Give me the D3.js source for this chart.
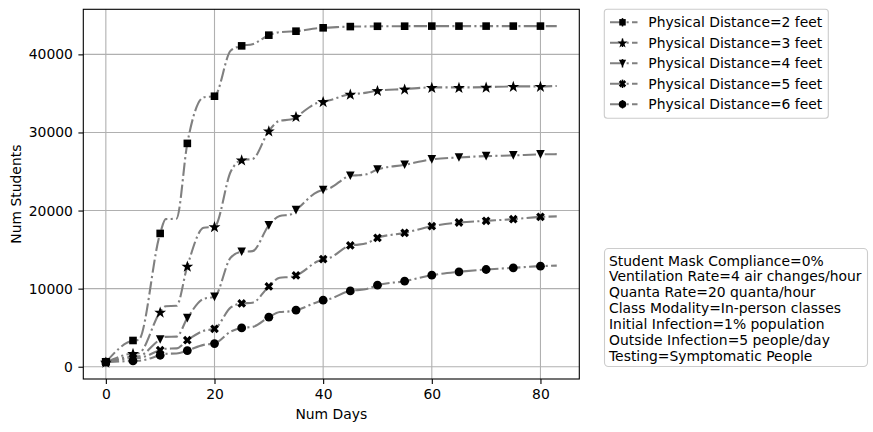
<!DOCTYPE html>
<html>
<head>
<meta charset="utf-8">
<script src="https://cdn.jsdelivr.net/npm/d3@7"></script>
<style>
  body { margin: 0; background: #fff; }
  svg { display: block; font-family: "DejaVu Sans", sans-serif; }
</style>
</head>
<body>
<div id="chart"></div>
<script>
const traceDays = [0, 5, 6, 10, 11, 13, 15, 18, 20, 23, 25, 27, 30, 32, 34, 35, 39, 40, 41, 45, 46, 48, 50, 55, 60, 65, 70, 75, 80, 83];

const seriesLabels = [
  "Physical Distance=2 feet",
  "Physical Distance=3 feet",
  "Physical Distance=4 feet",
  "Physical Distance=5 feet",
  "Physical Distance=6 feet"
];
const seriesMarkers = ["square", "star", "triangleDown", "xFilled", "circle"];

const dist2ft = [580, 3360, 3420, 17070, 18900, 18950, 28600, 34500, 34640, 40500, 41090, 41300, 42460, 42850, 42920, 42970, 43350, 43400, 43430, 43560, 43570, 43580, 43600, 43610, 43620, 43620, 43620, 43620, 43620, 43620];
const dist3ft = [580, 1690, 1720, 6990, 7750, 7800, 12880, 17800, 17920, 25000, 26470, 26600, 30190, 31500, 31650, 32030, 33800, 33950, 34100, 34900, 34950, 35100, 35360, 35550, 35770, 35770, 35800, 35900, 35900, 35950];
const dist4ft = [580, 1300, 1330, 3490, 3820, 3850, 6220, 8700, 8950, 14000, 14720, 14800, 18100, 19300, 19500, 20060, 22400, 22630, 22800, 24450, 24500, 24650, 25260, 25860, 26550, 26800, 26970, 27060, 27190, 27220];
const dist5ft = [580, 1100, 1120, 2115, 2300, 2350, 3400, 4600, 4850, 7600, 8100, 8200, 10280, 11400, 11500, 11690, 13500, 13780, 13900, 15530, 15600, 15800, 16500, 17140, 18000, 18470, 18680, 18900, 19190, 19250];
const dist6ft = [580, 740, 760, 1470, 1650, 1700, 2070, 2800, 2970, 4500, 4970, 5100, 6350, 7000, 7100, 7240, 8300, 8520, 8650, 9710, 9800, 9950, 10440, 10950, 11720, 12150, 12450, 12660, 12880, 12950];
const seriesValues = [dist2ft, dist3ft, dist4ft, dist5ft, dist6ft];

const xTicks = [0, 20, 40, 60, 80];
const yTicks = [0, 10000, 20000, 30000, 40000];

const infoLines = [
  "Student Mask Compliance=0%",
  "Ventilation Rate=4 air changes/hour",
  "Quanta Rate=20 quanta/hour",
  "Class Modality=In-person classes",
  "Initial Infection=1% population",
  "Outside Infection=5 people/day",
  "Testing=Symptomatic People"
];

const WIDTH = 873, HEIGHT = 432;
const PLOT = { left: 83.3, right: 579.3, top: 9.3, bottom: 379 };
const FONT = 13.9;
const LINE_GRAY = "#808080";
const DASHDOT = "13.3,3.3,2.1,3.3";

const svg = d3.select("#chart").append("svg")
  .attr("width", WIDTH)
  .attr("height", HEIGHT);

// matplotlib-like 5% autoscale margins
const xExt = d3.extent(traceDays);
const xPad = (xExt[1] - xExt[0]) * 0.05;
const allVals = seriesValues.flat();
const yExt = d3.extent(allVals);
const yPad = (yExt[1] - yExt[0]) * 0.05;

const x = d3.scaleLinear().domain([xExt[0] - xPad, xExt[1] + xPad]).range([PLOT.left, PLOT.right]);
const y = d3.scaleLinear().domain([yExt[0] - yPad, yExt[1] + yPad]).range([PLOT.bottom, PLOT.top]);

// grid
const grid = svg.append("g");
xTicks.forEach(t => grid.append("line")
  .attr("x1", x(t)).attr("x2", x(t)).attr("y1", PLOT.top).attr("y2", PLOT.bottom)
  .attr("stroke", "#b0b0b0").attr("stroke-width", 1.1));
yTicks.forEach(t => grid.append("line")
  .attr("x1", PLOT.left).attr("x2", PLOT.right).attr("y1", y(t)).attr("y2", y(t))
  .attr("stroke", "#b0b0b0").attr("stroke-width", 1.1));

// marker shapes
function markerPath(kind) {
  switch (kind) {
    case "square": {
      const s = 3.8;
      return `M${-s},${-s}H${s}V${s}H${-s}Z`;
    }
    case "circle":
      return d3.symbol(d3.symbolCircle, Math.PI * 4.4 * 4.4)();
    case "triangleDown": {
      const s = 4.3;
      return `M0,${s}L${-s},${-s}L${s},${-s}Z`;
    }
    case "star": {
      const R = 6.2, r = R * 0.4;
      const pts = d3.range(10).map(i => {
        const a = -Math.PI / 2 + i * Math.PI / 5;
        const rad = i % 2 === 0 ? R : r;
        return [rad * Math.cos(a), rad * Math.sin(a) + 0.5];
      });
      return "M" + pts.map(p => p.join(",")).join("L") + "Z";
    }
    case "xFilled": {
      const a = 4.6, t = 1.6;
      const plus = [[-t, -a], [t, -a], [t, -t], [a, -t], [a, t], [t, t], [t, a], [-t, a], [-t, t], [-a, t], [-a, -t], [-t, -t]];
      const c = Math.SQRT1_2;
      const rot = plus.map(([px, py]) => [px * c - py * c, px * c + py * c]);
      return "M" + rot.map(p => p.join(",")).join("L") + "Z";
    }
  }
}

// lines + markers
const lineGen = d3.line()
  .x(d => x(d[0]))
  .y(d => y(d[1]))
  .curve(d3.curveMonotoneX);

const plot = svg.append("g");
seriesValues.forEach((vals, i) => {
  const pts = traceDays.map((d, j) => [d, vals[j]]);
  plot.append("path")
    .attr("d", lineGen(pts))
    .attr("fill", "none")
    .attr("stroke", LINE_GRAY)
    .attr("stroke-width", 2.1)
    .attr("stroke-dasharray", DASHDOT);
});
seriesValues.forEach((vals, i) => {
  const pts = traceDays.map((d, j) => [d, vals[j]]).filter(p => p[0] % 5 === 0);
  plot.selectAll(null).data(pts).enter().append("path")
    .attr("d", markerPath(seriesMarkers[i]))
    .attr("transform", d => `translate(${x(d[0])},${y(d[1])})`)
    .attr("fill", "#000");
});

// spines
svg.append("rect")
  .attr("x", PLOT.left).attr("y", PLOT.top)
  .attr("width", PLOT.right - PLOT.left).attr("height", PLOT.bottom - PLOT.top)
  .attr("fill", "none").attr("stroke", "#000").attr("stroke-width", 1.1);

// axes
const xAxis = svg.append("g")
  .attr("transform", `translate(0,${PLOT.bottom})`)
  .call(d3.axisBottom(x).tickValues(xTicks).tickSize(4.9).tickPadding(4.9).tickSizeOuter(0));
const yAxis = svg.append("g")
  .attr("transform", `translate(${PLOT.left},0)`)
  .call(d3.axisLeft(y).tickValues(yTicks).tickFormat(d3.format("d")).tickSize(4.9).tickPadding(5.5).tickSizeOuter(0));
[xAxis, yAxis].forEach(ax => {
  ax.select(".domain").remove();
  ax.selectAll(".tick line").attr("stroke", "#000").attr("stroke-width", 1.1);
  ax.selectAll(".tick text")
    .attr("fill", "#000")
    .attr("font-size", FONT)
    .attr("font-family", "DejaVu Sans");
});

svg.append("text")
  .attr("x", (PLOT.left + PLOT.right) / 2)
  .attr("y", 419)
  .attr("text-anchor", "middle")
  .attr("font-size", FONT)
  .text("Num Days");

svg.append("text")
  .attr("transform", `translate(21,${(PLOT.top + PLOT.bottom) / 2}) rotate(-90)`)
  .attr("text-anchor", "middle")
  .attr("font-size", FONT)
  .text("Num Students");

// legend
const legend = svg.append("g");
legend.append("rect")
  .attr("x", 604.3).attr("y", 9.3)
  .attr("width", 224).attr("height", 109)
  .attr("rx", 3).attr("ry", 3)
  .attr("fill", "#fff").attr("fill-opacity", 0.8)
  .attr("stroke", "#cccccc").attr("stroke-width", 1.1);

seriesLabels.forEach((label, i) => {
  const cy = 22.3 + i * 20.5;
  const item = legend.append("g");
  item.append("line")
    .attr("x1", 610).attr("x2", 637.5).attr("y1", cy).attr("y2", cy)
    .attr("stroke", LINE_GRAY).attr("stroke-width", 2.1)
    .attr("stroke-dasharray", DASHDOT);
  item.append("line")
    .attr("x1", 622.5).attr("x2", 622.5).attr("y1", cy - 4.2).attr("y2", cy + 4.2)
    .attr("stroke", "#000").attr("stroke-width", 1.5);
  item.append("path")
    .attr("d", markerPath(seriesMarkers[i]))
    .attr("transform", `translate(622.5,${cy}) scale(0.85)`)
    .attr("fill", "#000");
  item.append("text")
    .attr("x", 648.3).attr("y", cy)
    .attr("dy", "0.36em")
    .attr("font-size", FONT)
    .text(label);
});

// parameter box
const info = svg.append("g");
info.append("rect")
  .attr("x", 604.5).attr("y", 248.5)
  .attr("width", 263).attr("height", 118)
  .attr("rx", 4).attr("ry", 4)
  .attr("fill", "#fff").attr("fill-opacity", 0.5)
  .attr("stroke", "#cccccc").attr("stroke-width", 1.1);
infoLines.forEach((line, i) => {
  info.append("text")
    .attr("x", 609)
    .attr("y", 260.5 + i * 15.9)
    .attr("dy", "0.36em")
    .attr("font-size", FONT)
    .text(line);
});
</script>
</body>
</html>
